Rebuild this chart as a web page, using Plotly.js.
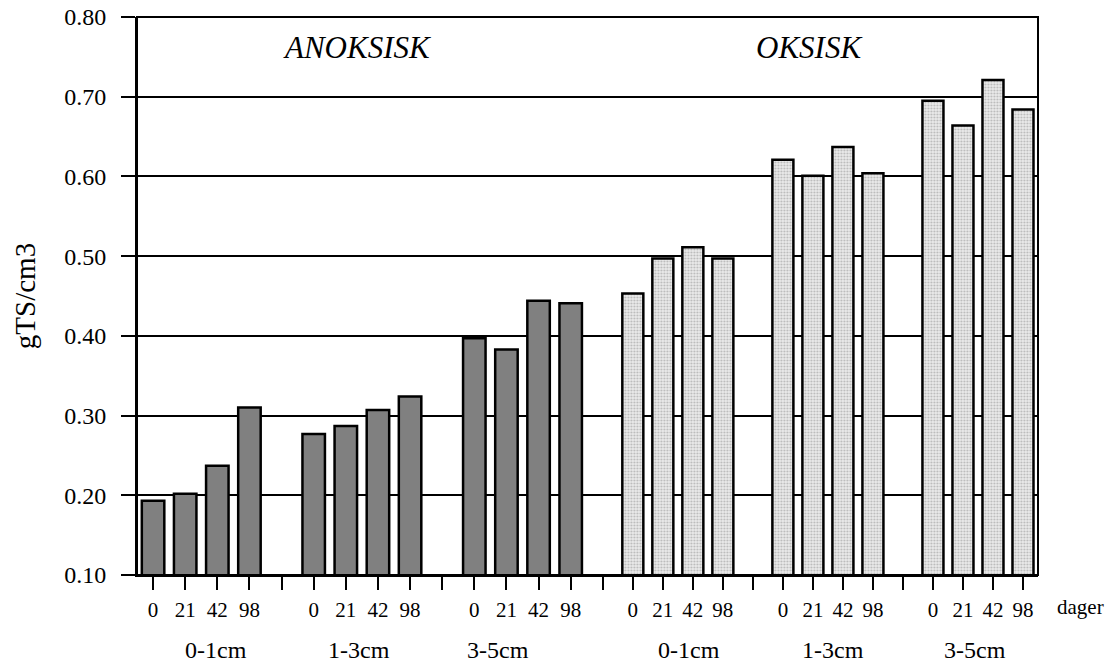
<!DOCTYPE html>
<html>
<head>
<meta charset="utf-8">
<script src="https://cdn.plot.ly/plotly-3.0.1.min.js"></script>
<style>html,body{margin:0;padding:0;background:#fff;}#chart{width:1109px;height:666px;}</style>
</head>
<body>
<div id="chart"></div>
<script>
// ---- data ----
const days = ['0', '21', '42', '98'];
const depths = ['0-1cm', '1-3cm', '3-5cm'];
const anoksisk = [0.193, 0.202, 0.237, 0.310, 0.277, 0.287, 0.307, 0.324, 0.397, 0.383, 0.444, 0.441];
const oksisk = [0.453, 0.497, 0.511, 0.497, 0.621, 0.601, 0.637, 0.604, 0.695, 0.664, 0.721, 0.684];
const yTicks = [0.1, 0.2, 0.3, 0.4, 0.5, 0.6, 0.7, 0.8];
const panelTitles = ['ANOKSISK', 'OKSISK'];
const xUnit = 'dager';
const yTitle = 'gTS/cm3';

// slot index: each depth group has 4 day-slots plus one empty slot
const slotsPerGroup = days.length + 1;
const xPos = anoksisk.map((_, i) => Math.floor(i / days.length) * slotsPerGroup + (i % days.length));

function tickSet(from, to) {
  const vals = [], text = [];
  for (let s = from; s <= to; s++) {
    vals.push(s);
    const m = ((s % slotsPerGroup) + slotsPerGroup) % slotsPerGroup;
    text.push(m < days.length ? days[m] : '');
  }
  return {vals, text};
}
const leftTicks = tickSet(0, 14);
const rightTicks = tickSet(-1, 13);

const FONT = 'Liberation Serif';
const split = 0.517;

const traces = [
  {type: 'bar', x: xPos, y: anoksisk, xaxis: 'x', yaxis: 'y', width: 0.7,
   marker: {color: '#808080', line: {color: '#000', width: 2.5}}, hoverinfo: 'y'},
  {type: 'bar', x: xPos, y: oksisk, xaxis: 'x2', yaxis: 'y', width: 0.7,
   marker: {color: '#e2e2e2', line: {color: '#000', width: 2.5},
            pattern: {shape: '.', bgcolor: '#ebebeb', fgcolor: '#b8b8b8', size: 3, solidity: 0.35}},
   hoverinfo: 'y'}
];

const xCommon = {
  ticks: 'outside', ticklen: 13, tickwidth: 2, tickcolor: '#000',
  showline: true, linecolor: '#000', linewidth: 2, showgrid: false, zeroline: false,
  tickfont: {family: FONT, size: 21, color: '#000'}, ticklabelstandoff: 2, fixedrange: true
};

const groupAnn = [];
const leftCenters = [0.088, 0.246, 0.401];
const rightCenters = [0.613, 0.773, 0.930];
depths.forEach((d, i) => {
  groupAnn.push({text: d, xref: 'paper', yref: 'paper', x: leftCenters[i], y: -0.134, showarrow: false,
    xanchor: 'center', yanchor: 'middle', font: {family: FONT, size: 24, color: '#000'}});
  groupAnn.push({text: d, xref: 'paper', yref: 'paper', x: rightCenters[i], y: -0.134, showarrow: false,
    xanchor: 'center', yanchor: 'middle', font: {family: FONT, size: 24, color: '#000'}});
});

const layout = {
  width: 1109, height: 666,
  margin: {l: 137, r: 71, t: 17, b: 91},
  paper_bgcolor: '#fff', plot_bgcolor: '#fff',
  showlegend: false,
  font: {family: FONT, color: '#000'},
  xaxis: Object.assign({}, xCommon, {domain: [0, split], range: [-0.5, 14],
    tickmode: 'array', tickvals: leftTicks.vals, ticktext: leftTicks.text}),
  xaxis2: Object.assign({}, xCommon, {domain: [split, 1], range: [-1, 13.5], anchor: 'y',
    tickmode: 'array', tickvals: rightTicks.vals, ticktext: rightTicks.text}),
  yaxis: {
    range: [0.1, 0.8], tickmode: 'array', tickvals: yTicks, tickformat: '.2f',
    ticks: 'outside', ticklen: 14, tickwidth: 2, tickcolor: '#000',
    showline: true, linecolor: '#000', linewidth: 2,
    showgrid: true, gridcolor: '#000', gridwidth: 2, zeroline: false,
    tickfont: {family: FONT, size: 24, color: '#000'}, ticklabelstandoff: 10,
    title: {text: yTitle, font: {family: FONT, size: 29, color: '#000'}, standoff: 20},
    fixedrange: true
  },
  shapes: [
    {type: 'rect', xref: 'paper', yref: 'paper', x0: 0, x1: 1, y0: 0, y1: 1,
     line: {color: '#000', width: 2}, layer: 'above'}
  ],
  annotations: [
    {text: '<i>' + panelTitles[0] + '</i>', xref: 'paper', yref: 'paper', x: 0.245, y: 0.946,
     showarrow: false, xanchor: 'center', yanchor: 'middle', font: {family: FONT, size: 31, color: '#000'}},
    {text: '<i>' + panelTitles[1] + '</i>', xref: 'paper', yref: 'paper', x: 0.746, y: 0.946,
     showarrow: false, xanchor: 'center', yanchor: 'middle', font: {family: FONT, size: 31, color: '#000'}},
    {text: xUnit, xref: 'paper', yref: 'paper', x: 1.047, y: -0.058, showarrow: false,
     xanchor: 'center', yanchor: 'middle', font: {family: FONT, size: 21, color: '#000'}}
  ].concat(groupAnn)
};

Plotly.newPlot('chart', traces, layout, {displayModeBar: false, staticPlot: true});
</script>
</body>
</html>
